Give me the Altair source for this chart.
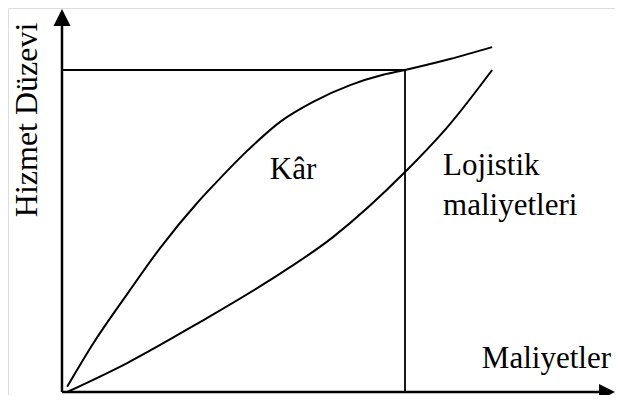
import altair as alt
import pandas as pd

# Upper curve: service level (Hizmet Düzevi) vs costs
upper_x = [1.5, 9.0, 19.0, 28.6, 39.4, 44.0, 53.9, 63.6, 73.2, 84.0, 93.6, 100.0, 113.1, 125.4]
upper_y = [1.6, 14.9, 30.4, 44.7, 58.7, 64.0, 74.8, 83.9, 90.1, 95.3, 98.5, 100.0, 103.4, 107.1]

# Lower curve: logistics costs
lower_x = [1.5, 19.0, 40.2, 59.8, 79.0, 100.0, 113.1, 125.4]
lower_y = [0.0, 9.0, 21.7, 34.2, 48.1, 68.3, 83.2, 100.0]

# Reference level (horizontal / vertical guide lines)
ref_x = 100.0
ref_y = 100.0

# Labels
label_text = ["Kâr", "Lojistik", "maliyetleri", "Maliyetler"]
label_x = [60.6, 111.1, 111.1, 122.4]
label_y = [66.1, 67.4, 55.0, 7.4]

y_title = "Hizmet Düzevi"

X_DOM = [-15.74, 161.22]
Y_DOM = [-0.93, 119.25]
W, H = 607, 387
FONT = "Liberation Serif"

xs = alt.Scale(domain=X_DOM, nice=False, zero=False)
ys = alt.Scale(domain=Y_DOM, nice=False, zero=False)
NOAX = None

curves = pd.DataFrame(
    [{"x": a, "y": b, "s": "upper", "o": i} for i, (a, b) in enumerate(zip(upper_x, upper_y))]
    + [{"x": a, "y": b, "s": "lower", "o": i} for i, (a, b) in enumerate(zip(lower_x, lower_y))]
)

line = alt.Chart(curves).mark_line(color="black", strokeWidth=2, interpolate="monotone").encode(
    x=alt.X("x:Q", scale=xs, axis=NOAX),
    y=alt.Y("y:Q", scale=ys, axis=NOAX),
    detail="s:N",
    order="o:Q",
)

xaxis = alt.Chart(pd.DataFrame({"x": [0.0], "x2": [157.0], "y": [0.0]})).mark_rule(
    color="black", strokeWidth=2.5
).encode(x=alt.X("x:Q", scale=xs, axis=NOAX), x2="x2:Q", y=alt.Y("y:Q", scale=ys, axis=NOAX))

yaxis = alt.Chart(pd.DataFrame({"x": [0.0], "y": [0.0], "y2": [114.0]})).mark_rule(
    color="black", strokeWidth=2.5
).encode(x=alt.X("x:Q", scale=xs, axis=NOAX), y=alt.Y("y:Q", scale=ys, axis=NOAX), y2="y2:Q")

arrow_up = alt.Chart(pd.DataFrame({"x": [0.0], "y": [116.3]})).mark_point(
    shape="M0,-1L-1,1L1,1Z", filled=True, color="black", size=289, opacity=1
).encode(x=alt.X("x:Q", scale=xs, axis=NOAX), y=alt.Y("y:Q", scale=ys, axis=NOAX))

arrow_right = alt.Chart(pd.DataFrame({"x": [158.9], "y": [0.0]})).mark_point(
    shape="M1,0L-1,-1L-1,1Z", filled=True, color="black", size=256, opacity=1
).encode(x=alt.X("x:Q", scale=xs, axis=NOAX), y=alt.Y("y:Q", scale=ys, axis=NOAX))

hline = alt.Chart(pd.DataFrame({"x": [0.0], "x2": [ref_x], "y": [ref_y]})).mark_rule(
    color="black", strokeWidth=1.8
).encode(x=alt.X("x:Q", scale=xs, axis=NOAX), x2="x2:Q", y=alt.Y("y:Q", scale=ys, axis=NOAX))

vline = alt.Chart(pd.DataFrame({"x": [ref_x], "y": [0.0], "y2": [ref_y]})).mark_rule(
    color="black", strokeWidth=1.8
).encode(x=alt.X("x:Q", scale=xs, axis=NOAX), y=alt.Y("y:Q", scale=ys, axis=NOAX), y2="y2:Q")

labels = alt.Chart(pd.DataFrame({"x": label_x, "y": label_y, "t": label_text})).mark_text(
    font=FONT, fontSize=31, align="left", baseline="alphabetic", color="black"
).encode(x=alt.X("x:Q", scale=xs, axis=NOAX), y=alt.Y("y:Q", scale=ys, axis=NOAX), text="t:N")

ytitle = alt.Chart(pd.DataFrame({"x": [-10.2], "y": [84.5], "t": [y_title]})).mark_text(
    font=FONT, fontSize=32, align="center", baseline="middle", angle=270, color="black"
).encode(x=alt.X("x:Q", scale=xs, axis=NOAX), y=alt.Y("y:Q", scale=ys, axis=NOAX), text="t:N")

chart = alt.layer(hline, vline, line, xaxis, yaxis, arrow_up, arrow_right, labels, ytitle).properties(
    width=W, height=H, autosize=alt.AutoSizeParams(type="none"), padding=0
).configure_view(stroke=None).configure(background="white")

chart.save("out.html", embed_options={"renderer": "svg", "actions": False})
